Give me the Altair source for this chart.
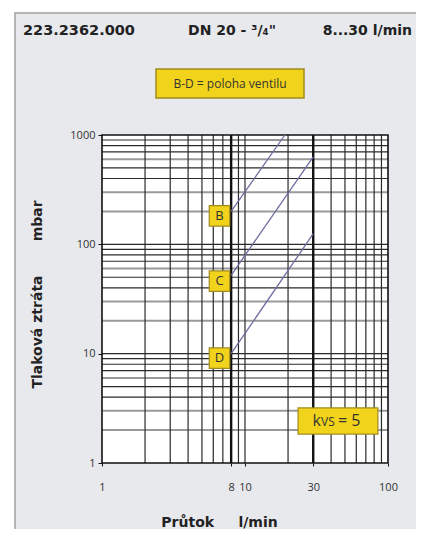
import altair as alt
import pandas as pd

# ---- data ----
x_grid_minor = [2, 3, 4, 5, 6, 7, 9, 10, 20, 40, 50, 60, 70, 80, 90]
x_grid_bold = [8, 30]
y_grid_dark = [4, 5, 7, 8, 9, 10, 40, 50, 70, 80, 90, 100, 400, 500, 700, 800, 900]
y_grid_light = [2, 3, 6, 20, 30, 60, 200, 300, 600]

curve_series = ["B", "B", "C", "C", "D", "D"]
curve_flow = [8, 19, 8, 30, 8, 30]
curve_dp = [200, 1000, 52, 630, 10, 125]

pos_labels = ["B", "C", "D"]
pos_flow = [6.63, 6.63, 6.63]
pos_dp = [182, 46, 9.1]

x_ticks = [1, 8, 10, 30, 100]
y_ticks = [1, 10, 100, 1000]

header_left = "223.2362.000"
header_mid = "DN 20 - ³/₄\""
header_right = "8...30 l/min"
legend_text = "B-D = poloha ventilu"
kvs_flow = [23.5, 85]
kvs_dp = [1.84, 3.19]

W, H = 286, 328
YEL = "#f2d31b"
YEL_STROKE = "#a08c1e"
BOLD_FONT = "DejaVu Sans"
FONT = "Open Sans"

xs = alt.Scale(type="log", domain=[1, 100], nice=False)
ys = alt.Scale(type="log", domain=[1, 1000], nice=False)

XAX = alt.Axis(
    values=x_ticks, format="d", grid=False, domain=False, ticks=True, tickSize=3, tickColor="#111",
    labelFont=FONT, labelFontSize=11, labelColor="#333", labelPadding=15, labelFlush=False,
    labelOverlap=False, zindex=1,
    title="Průtok\u00a0\u00a0\u00a0\u00a0\u00a0l/min", titleFont=BOLD_FONT, titleFontWeight="bold",
    titleFontSize=14, titleColor="#222", titleX=117, titleY=59, titleAnchor="middle",
    titleBaseline="middle")
YAX = alt.Axis(
    values=y_ticks, format="d", grid=False, domain=False, ticks=True, tickSize=4, tickColor="#111",
    labelFont=FONT, labelFontSize=11, labelColor="#333", labelPadding=3, labelOverlap=False,
    labelFlush=False, zindex=1,
    title="Tlaková ztráta\u00a0\u00a0\u00a0\u00a0\u00a0\u00a0\u00a0mbar", titleFont=BOLD_FONT,
    titleFontWeight="bold", titleFontSize=14, titleColor="#222", titleAngle=-90,
    titleX=-65, titleY=159, titleAnchor="middle", titleBaseline="middle")


def X(f):
    return alt.X(f, type="quantitative", scale=xs, axis=XAX)


def Y(f):
    return alt.Y(f, type="quantitative", scale=ys, axis=YAX)


one = pd.DataFrame({"a": [0]})

# panel background
panel = alt.Chart(one).mark_rect(fill="#e7e9ed", stroke="#a0a0a0", strokeWidth=1.5).encode(
    x=alt.value(-87), x2=alt.value(340), y=alt.value(-122), y2=alt.value(420)
)
plot_bg = alt.Chart(one).mark_rect(fill="white").encode(
    x=alt.value(0), x2=alt.value(W), y=alt.value(0), y2=alt.value(H)
)

vlines = alt.Chart(pd.DataFrame({"x": x_grid_minor})).mark_rule(color="#2a2a2a", strokeWidth=1.2).encode(x=X("x"))
vbold = alt.Chart(pd.DataFrame({"x": x_grid_bold})).mark_rule(color="#111", strokeWidth=2.4).encode(x=X("x"))
hdark = alt.Chart(pd.DataFrame({"y": y_grid_dark})).mark_rule(color="#2a2a2a", strokeWidth=1.2).encode(y=Y("y"))
hlight = alt.Chart(pd.DataFrame({"y": y_grid_light})).mark_rule(color="#9a9a9a", strokeWidth=2).encode(y=Y("y"))

frame = alt.Chart(one).mark_rect(fill=None, stroke="#111", strokeWidth=1.6).encode(
    x=alt.value(0), x2=alt.value(W), y=alt.value(0), y2=alt.value(H)
)

cdf = pd.DataFrame({"s": curve_series, "q": curve_flow, "p": curve_dp})
curves = alt.Chart(cdf).mark_line(color="#6e6ea2", strokeWidth=1.3).encode(
    x=X("q"), y=Y("p"), detail="s:N",
)

pdf = pd.DataFrame({"l": pos_labels, "q": pos_flow, "p": pos_dp})
pos_box = alt.Chart(pdf).mark_square(size=420, fill=YEL, stroke=YEL_STROKE, strokeWidth=1.2, opacity=1).encode(
    x=X("q"), y=Y("p")
)
pos_txt = alt.Chart(pdf).mark_text(font=FONT, fontSize=13, color="#333", baseline="middle").encode(
    x=X("q"), y=Y("p"), text="l:N"
)

kdf = pd.DataFrame({"q1": [kvs_flow[0]], "q2": [kvs_flow[1]], "p1": [kvs_dp[0]], "p2": [kvs_dp[1]],
                    "qc": [(kvs_flow[0] * kvs_flow[1]) ** 0.5], "pc": [(kvs_dp[0] * kvs_dp[1]) ** 0.5]})
kvs_box = alt.Chart(kdf).mark_rect(fill=YEL, stroke=YEL_STROKE, strokeWidth=1.2).encode(
    x=X("q1"), x2="q2:Q", y=Y("p1"), y2="p2:Q",
)
kvs_k = alt.Chart(kdf).mark_text(font=FONT, fontSize=16, color="#333", baseline="middle", align="right", dx=-17).encode(
    x=X("qc"), y=Y("pc"), text=alt.value("k")
)
kvs_vs = alt.Chart(kdf).mark_text(font=FONT, fontSize=12, color="#333", baseline="middle", align="left", dx=-17, dy=1).encode(
    x=X("qc"), y=Y("pc"), text=alt.value("VS")
)
kvs_eq = alt.Chart(kdf).mark_text(font=FONT, fontSize=16, color="#333", baseline="middle", align="left", dx=0).encode(
    x=X("qc"), y=Y("pc"), text=alt.value("= 5")
)

# header texts
hdr_l = alt.Chart(one).mark_text(font=BOLD_FONT, fontWeight="bold", fontSize=14.5, color="#222", align="left", baseline="middle").encode(
    x=alt.value(-79), y=alt.value(-104), text=alt.value(header_left))
hdr_m = alt.Chart(one).mark_text(font=BOLD_FONT, fontWeight="bold", fontSize=14, color="#222", align="center", baseline="middle").encode(
    x=alt.value(130), y=alt.value(-104), text=alt.value(header_mid))
hdr_r = alt.Chart(one).mark_text(font=BOLD_FONT, fontWeight="bold", fontSize=14, color="#222", align="right", baseline="middle").encode(
    x=alt.value(310), y=alt.value(-104), text=alt.value(header_right))

leg_box = alt.Chart(one).mark_rect(fill=YEL, stroke=YEL_STROKE, strokeWidth=1.5).encode(
    x=alt.value(54), x2=alt.value(202), y=alt.value(-66), y2=alt.value(-37))
leg_txt = alt.Chart(one).mark_text(font=FONT, fontSize=12, color="#333", align="center", baseline="middle").encode(
    x=alt.value(128), y=alt.value(-51), text=alt.value(legend_text))

chart = alt.layer(
    panel, plot_bg, hlight, hdark, vlines, vbold, frame, curves,
    pos_box, pos_txt, kvs_box, kvs_k, kvs_vs, kvs_eq,
    hdr_l, hdr_m, hdr_r, leg_box, leg_txt,
).properties(
    width=W, height=H,
    autosize=alt.AutoSizeParams(type="none"),
    padding={"left": 94, "top": 127, "right": 28, "bottom": 66},
).configure_view(stroke=None).configure(background="white")

chart.save("out.html", embed_options={"renderer": "svg", "actions": False})
